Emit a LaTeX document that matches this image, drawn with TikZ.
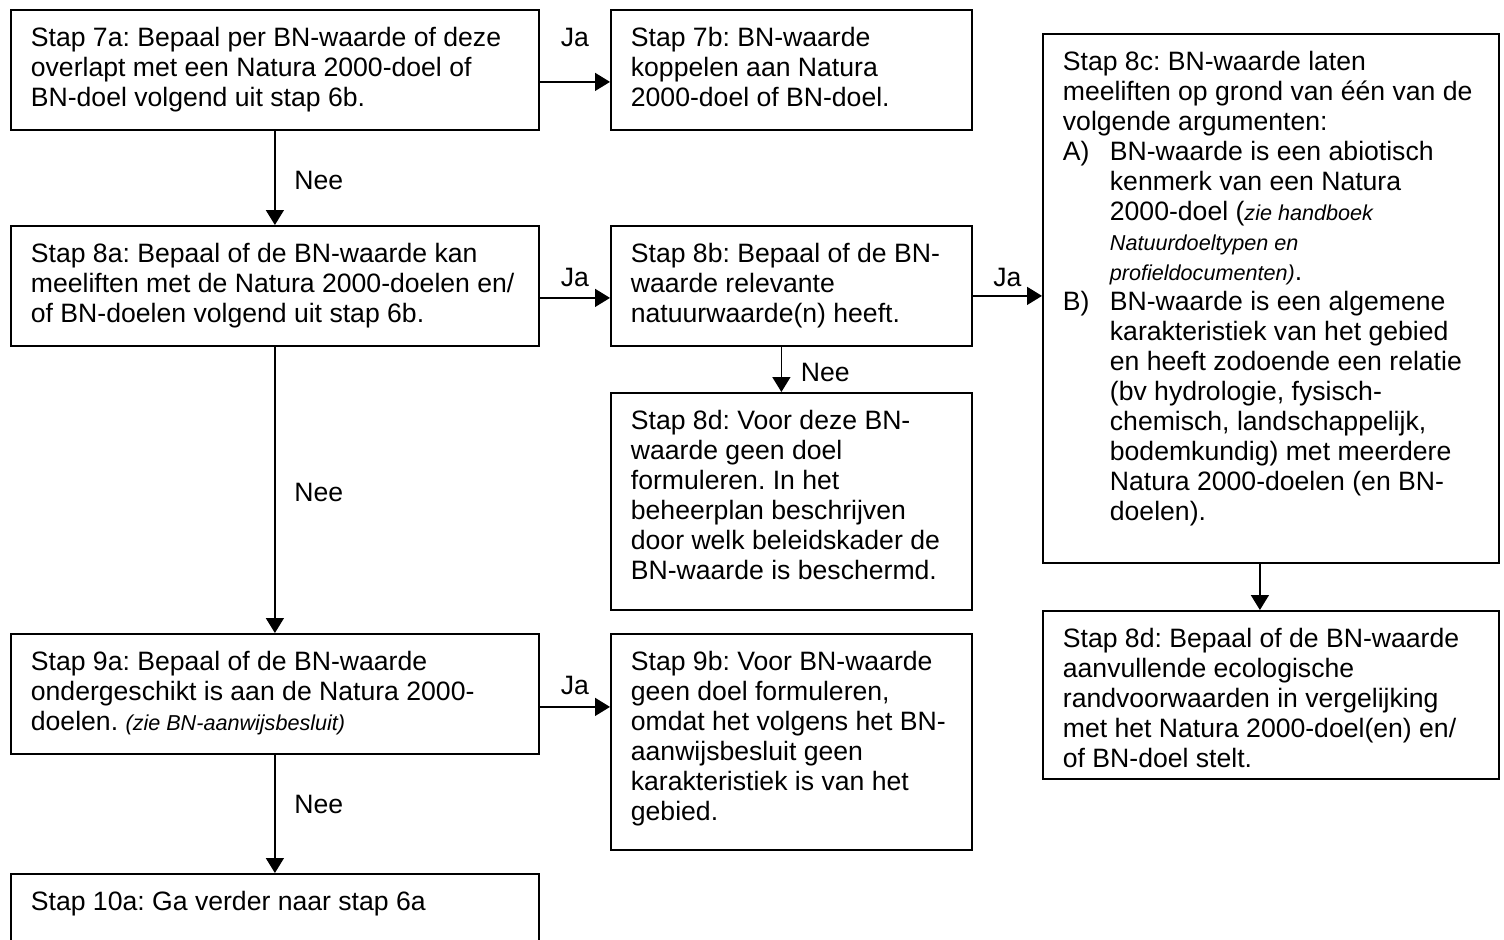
\documentclass[tikz,border=0pt]{standalone}
\usepackage{fontspec}
\setmainfont{Liberation Sans}
\usetikzlibrary{arrows.meta}

\newcommand{\klein}{\itshape\fontsize{10.8}{15}\selectfont}
\newcommand{\punt}[1]{\par\hangindent=23.5pt\hangafter=1\makebox[23.5pt][l]{#1}}

\tikzset{
  stap/.style={draw, line width=0.9pt, anchor=north west, align=flush left,
    inner xsep=10pt, inner ysep=0pt, text height=18.5pt},
  pijl/.style={line width=0.75pt, -{Triangle[length=7.5pt,width=9pt]}},
  nee/.style={right=6pt}
}

\begin{document}
\frenchspacing
\begin{tikzpicture}[x=0.5pt, y=-0.5pt, font=\fontsize{13.3}{15}\selectfont]
\useasboundingbox (0,0) rectangle (1504,939);
\clip (0,0) rectangle (1504,939);

% linker kolom
\node[stap, text width=244pt, text depth=41.5pt] (a7) at (10,9)
  {Stap 7a: Bepaal per BN-waarde of deze\newline overlapt met een Natura 2000-doel of\newline BN-doel volgend uit stap 6b.};
\node[stap, text width=244pt, text depth=41.5pt] (a8) at (10,225)
  {Stap 8a: Bepaal of de BN-waarde kan\newline meeliften met de Natura 2000-doelen en/\newline of BN-doelen volgend uit stap 6b.};
\node[stap, text width=244pt, text depth=41.5pt] (a9) at (10,633)
  {Stap 9a: Bepaal of de BN-waarde\newline ondergeschikt is aan de Natura 2000-\newline doelen. {\klein (zie BN-aanwijsbesluit)}};
\node[stap, text width=244pt, text depth=41.5pt] (a10) at (10,873)
  {Stap 10a: Ga verder naar stap 6a};

% middelste kolom
\node[stap, text width=160.5pt, text depth=41.5pt] (b7) at (610,9)
  {Stap 7b: BN-waarde\newline koppelen aan Natura\newline 2000-doel of BN-doel.};
\node[stap, text width=160.5pt, text depth=41.5pt] (b8) at (610,225)
  {Stap 8b: Bepaal of de BN-\newline waarde relevante\newline natuurwaarde(n) heeft.};
\node[stap, text width=160.5pt, text depth=90pt] (d8) at (610,392)
  {Stap 8d: Voor deze BN-\newline waarde geen doel\newline formuleren. In het\newline beheerplan beschrijven\newline door welk beleidskader de\newline BN-waarde is beschermd.};
\node[stap, text width=160.5pt, text depth=89.5pt] (b9) at (610,633)
  {Stap 9b: Voor BN-waarde\newline geen doel formuleren,\newline omdat het volgens het BN-\newline aanwijsbesluit geen\newline karakteristiek is van het\newline gebied.};

% rechter kolom
\node[stap, text width=208pt, text depth=246pt] (c8) at (1042,33)
  {Stap 8c: BN-waarde laten\newline meeliften op grond van één van de\newline volgende argumenten:
   \punt{A)}BN-waarde is een abiotisch\newline kenmerk van een Natura\newline 2000-doel ({\klein zie handboek\newline Natuurdoeltypen en\newline profieldocumenten)}.
   \punt{B)}BN-waarde is een algemene\newline karakteristiek van het gebied\newline en heeft zodoende een relatie\newline (bv hydrologie, fysisch-\newline chemisch, landschappelijk,\newline bodemkundig) met meerdere\newline Natura 2000-doelen (en BN-\newline doelen).\par};
\node[stap, text width=208pt, text depth=65.5pt] (e8) at (1042,610)
  {Stap 8d: Bepaal of de BN-waarde\newline aanvullende ecologische\newline randvoorwaarden in vergelijking\newline met het Natura 2000-doel(en) en/\newline of BN-doel stelt.};

% pijlen
\draw[pijl] ([yshift=-6pt]a7.east) -- ([yshift=-6pt]a7.east -| b7.west) node[midway, above=14pt] {Ja};
\draw[pijl] ([yshift=-6pt]a8.east) -- ([yshift=-6pt]a8.east -| b8.west) node[midway, above=2pt] {Ja};
\draw[pijl] ([yshift=-5pt]b8.east) -- ([yshift=-5pt]b8.east -| c8.west) node[midway, above=1pt] {Ja};
\draw[pijl] ([yshift=-6.5pt]a9.east) -- ([yshift=-6.5pt]a9.east -| b9.west) node[midway, above=2.5pt] {Ja};

\draw[pijl] (a7) -- (a8) node[pos=0.53, nee] {Nee};
\draw[pijl] (a8) -- (a9) node[pos=0.51, nee] {Nee};
\draw[pijl] (a9) -- (a10) node[pos=0.42, nee] {Nee};
\draw[pijl] ([xshift=-5pt]b8.south) -- ([xshift=-5pt]b8.south |- d8.north) node[pos=0.57, nee] {Nee};
\draw[pijl] ([xshift=-5.5pt]c8.south) -- ([xshift=-5.5pt]c8.south |- e8.north);
\end{tikzpicture}
\end{document}
